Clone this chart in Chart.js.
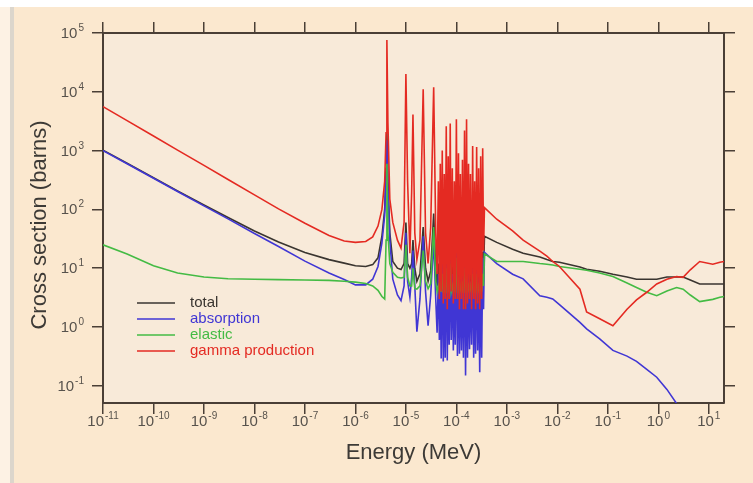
<!DOCTYPE html>
<html>
<head>
<meta charset="utf-8">
<script src="https://cdn.jsdelivr.net/npm/chart.js@4.4.0/dist/chart.umd.min.js"></script>
<style>
  html, body { margin: 0; padding: 0; }
  body { width: 753px; height: 483px; background: #fbe8cf; position: relative; overflow: hidden; }
  #topband { position: absolute; left: 0; top: 0; width: 753px; height: 7px; background: #ffffff; }
  #edge { position: absolute; left: 0; top: 7px; width: 10px; height: 476px; background: #fdf2e4; }
  #stripe { position: absolute; left: 10px; top: 7px; width: 4px; height: 476px; background: #dcd6cc; }
  #wrap { position: absolute; left: 0; top: 0; width: 753px; height: 483px; }
</style>
</head>
<body>
<div id="topband"></div>
<div id="edge"></div>
<div id="stripe"></div>
<div id="wrap"><canvas id="xsChart" width="753" height="483"></canvas></div>
<script>
// tick exponents (powers of ten)
const xTickExps = [-11, -10, -9, -8, -7, -6, -5, -4, -3, -2, -1, 0, 1];
const yTickExps = [-1, 0, 1, 2, 3, 4, 5];

// thermal / epithermal part (MeV, barns)
const lowE     = [1e-11, 3e-11, 1e-10, 3e-10, 1e-9, 3e-9, 1e-8, 3e-8, 1e-7, 3e-7, 6e-7, 1e-6, 1.6e-6, 2.2e-6, 2.8e-6, 3.35e-6, 3.8e-6, 4.05e-6];
const lowTotal = [1020, 610, 345, 206, 119, 73, 43, 28, 18.5, 14, 12.2, 11, 10.7, 11.5, 15, 35, 100, 500];
const lowAbs   = [1000, 597, 339, 202, 115, 69, 39, 23.4, 13.2, 8.3, 6.4, 5.2, 5.2, 6.5, 10.7, 27, 80, 400];
const lowEl    = [25, 17.5, 11, 8.3, 7.1, 6.6, 6.5, 6.4, 6.3, 6.2, 6.0, 5.8, 5.5, 5.0, 4.2, 3.3, 3.0, 30];
const lowGam   = [5600, 3230, 1770, 1020, 560, 323, 177, 102, 58, 36, 29, 27.5, 28.5, 34, 52, 100, 300, 2000];

// first resolved resonances
const resE = [4.2e-6, 4.4e-6, 4.8e-6, 5.5e-6, 6.8e-6, 8e-6, 9.2e-6, 1.0e-5, 1.08e-5, 1.2e-5,
              1.3e-5, 1.38e-5, 1.5e-5, 1.65e-5, 1.9e-5, 2.2e-5, 2.45e-5, 2.75e-5, 3.1e-5, 3.55e-5,
              3.9e-5, 4.15e-5];
const resTotal = [2000, 300, 40, 13, 10, 9.5, 12, 60, 12, 10,
                  12, 30, 10, 6, 8, 50, 10, 6, 9, 85,
                  9, 5];
const resAbs   = [1500, 250, 30, 6.5, 3.5, 2.8, 5, 40, 6, 3.2,
                  7, 20, 5, 0.83, 3, 35, 4, 1.05, 3.5, 30,
                  3, 0.8];
const resEl    = [600, 40, 12, 8.5, 7, 6.8, 7, 25, 7, 5,
                  5, 10, 4.5, 4.4, 5, 20, 6, 4.5, 5.5, 50,
                  6, 4];
const resGam   = [76000, 3000, 150, 60, 30, 22, 60, 20000, 300, 18,
                  200, 4100, 40, 14, 30, 11000, 40, 12, 50, 12000,
                  40, 8];

// dense resonance cluster
const denseE = [4.4e-5, 4.6e-5, 4.8e-5, 5.0e-5, 5.25e-5, 5.5e-5, 5.75e-5, 6.0e-5, 6.3e-5, 6.6e-5,
                6.9e-5, 7.2e-5, 7.55e-5, 7.9e-5, 8.3e-5, 8.7e-5, 9.1e-5, 9.5e-5, 1.0e-4, 1.05e-4,
                1.1e-4, 1.15e-4, 1.2e-4, 1.26e-4, 1.32e-4, 1.38e-4, 1.45e-4, 1.52e-4, 1.59e-4, 1.66e-4,
                1.74e-4, 1.82e-4, 1.9e-4, 2.0e-4, 2.1e-4, 2.2e-4, 2.3e-4, 2.4e-4, 2.52e-4, 2.64e-4,
                2.76e-4, 2.9e-4, 3.03e-4, 3.17e-4, 3.32e-4, 3.45e-4];
const denseTotal = [12, 4.5, 14, 4.3, 24, 4.2, 12, 4.3, 34, 4.3,
                    14, 4.5, 34, 4.6, 12, 4.4, 10, 4.5, 39, 4.3,
                    16, 4.4, 12, 4.4, 14, 4.3, 29, 4.1, 39, 4.3,
                    12, 4.4, 10, 4.5, 24, 4.3, 10, 4.3, 22, 4.4,
                    11, 4.1, 16, 4.3, 19, 8];
const denseAbs   = [8, 0.6, 10, 0.29, 20, 0.26, 8, 0.3, 30, 0.27,
                    10, 0.5, 30, 0.6, 8, 0.4, 6, 0.5, 35, 0.32,
                    12, 0.35, 8, 0.4, 10, 0.3, 25, 0.15, 35, 0.3,
                    8, 0.42, 6, 0.5, 20, 0.3, 6, 0.35, 18, 0.4,
                    7, 0.17, 12, 0.3, 15, 2];
const denseEl    = [5, 4, 6, 4, 8, 3.8, 5, 4, 10, 3.8,
                    6, 4, 12, 4, 5, 3.9, 5, 4, 15, 3.8,
                    7, 4, 5, 4, 6, 3.8, 10, 3.8, 15, 4,
                    5, 4, 5, 4, 8, 3.8, 5, 4, 8, 4,
                    5, 3.8, 6, 4, 8, 5];
const denseGam   = [300, 3, 600, 4, 1000, 2.5, 400, 3, 2600, 2,
                    800, 3, 2900, 4, 500, 2.5, 300, 3, 3400, 3,
                    900, 2, 400, 3, 700, 2, 2200, 2, 3400, 2.5,
                    600, 3, 400, 2, 1200, 3, 300, 2, 1150, 2.5,
                    500, 2, 800, 3, 1100, 20];

// unresolved / fast region
const highE     = [3.6e-4, 6.3e-4, 1.3e-3, 2.1e-3, 4.5e-3, 6.2e-3, 8.1e-3, 1.1e-2, 2.8e-2, 3.8e-2, 6.9e-2, 0.126, 0.24, 0.37, 0.59, 0.93, 1.48, 2.3, 3.1, 4.3, 6.6, 12, 16.6, 20];
const highTotal = [35, 27.5, 21, 18, 15.5, 14, 13, 12.6, 10.5, 9.6, 8.9, 7.9, 7.1, 6.5, 6.5, 6.5, 7.1, 7.1, 7.1, 6.3, 5.4, 5.4, 5.4, 5.4];
const highAbs   = [18.6, 12, 7.9, 6.6, 3.4, 3.2, 3.0, 2.4, 1.2, 0.93, 0.63, 0.4, 0.32, 0.26, 0.19, 0.14, 0.087, 0.05, 0.035, null, null, null, null, null];
const highEl    = [17.5, 13, 13, 13, 12, 11.7, 11.3, 10.7, 9.6, 9.2, 8.3, 7.2, 5.6, 4.7, 3.9, 3.4, 4.1, 4.7, 4.4, 3.5, 2.7, 2.95, 3.2, 3.3];
const highGam   = [107, 68, 43, 30, 19.5, 16, 13, 10.7, 4.4, 1.8, 1.38, 1.05, 2.0, 2.9, 3.9, 5.4, 6.5, 7.2, 7.0, 9.4, 13, 11.7, 12.6, 13];

const axisColor = '#4a3f36';
const tickColor = '#57524c';
const titleColor = '#3d3a36';
const fontFamily = '"Liberation Sans", Arial, sans-serif';

const energies = lowE.concat(resE, denseE, highE);
function toPoints(low, res, dense, high) {
    const vals = low.concat(res, dense, high);
    return energies.map((e, i) => ({ x: e, y: vals[i] }));
}

// "10" with a raised exponent
function drawPow(ctx, e, x, align, baseline) {
    ctx.font = '15px ' + fontFamily;
    const wb = ctx.measureText('10').width;
    ctx.font = '10px ' + fontFamily;
    const exp = String(e);
    const we = ctx.measureText(exp).width;
    const total = wb + 1 + we;
    const left = align === 'center' ? x - total / 2 : x - total;
    ctx.textAlign = 'left';
    ctx.textBaseline = 'alphabetic';
    ctx.font = '15px ' + fontFamily;
    ctx.fillText('10', left, baseline);
    ctx.font = '10px ' + fontFamily;
    ctx.fillText(exp, left + wb + 1, baseline - 7);
}

const axisText = {
    id: 'axisText',
    afterDraw(chart) {
        const { ctx } = chart;
        const xs = chart.scales.x, ys = chart.scales.y;
        ctx.save();
        ctx.fillStyle = tickColor;
        xTickExps.forEach(e => drawPow(ctx, e, xs.getPixelForValue(Math.pow(10, e)), 'center', xs.top + 23));
        yTickExps.forEach(e => drawPow(ctx, e, ys.right - 19, 'right', ys.getPixelForValue(Math.pow(10, e)) + 5));
        // y axis title, slightly below the axis middle as in the source
        ctx.translate(40, (ys.top + ys.bottom) / 2 + 7);
        ctx.rotate(-Math.PI / 2);
        ctx.fillStyle = titleColor;
        ctx.font = '22px ' + fontFamily;
        ctx.textAlign = 'center';
        ctx.textBaseline = 'middle';
        ctx.fillText('Cross section (barns)', 0, 0);
        ctx.restore();
    }
};

// plot area fill
const plotBg = {
    id: 'plotBg',
    beforeDraw(chart) {
        const { ctx, chartArea: a } = chart;
        ctx.save();
        ctx.fillStyle = '#f8ead9';
        ctx.fillRect(a.left, a.top, a.right - a.left, a.bottom - a.top);
        ctx.restore();
    }
};

// legend inside the plot, lower left
const innerLegend = {
    id: 'innerLegend',
    afterDatasetsDraw(chart) {
        const { ctx, chartArea: a } = chart;
        ctx.save();
        chart.data.datasets.forEach((ds, i) => {
            const y = a.top + 270 + i * 16;
            ctx.strokeStyle = ds.borderColor;
            ctx.lineWidth = 1.5;
            ctx.beginPath();
            ctx.moveTo(a.left + 34, y);
            ctx.lineTo(a.left + 72, y);
            ctx.stroke();
            ctx.fillStyle = ds.borderColor;
            ctx.font = '15px ' + fontFamily;
            ctx.textBaseline = 'middle';
            ctx.fillText(ds.label, a.left + 87, y);
        });
        ctx.restore();
    }
};

function logAxis(pos, ticks, min, max, size) {
    const horizontal = pos === 'top' || pos === 'bottom';
    return {
        type: 'logarithmic',
        position: pos,
        min: min,
        max: max,
        afterBuildTicks: s => { s.ticks = ticks.map(v => ({ value: v })); },
        afterFit: s => { if (horizontal) s.height = size; else s.width = size; },
        ticks: { display: false, autoSkip: false, maxRotation: 0 },
        grid: { drawOnChartArea: false, drawTicks: true, tickLength: 11, color: axisColor, lineWidth: 1.5 },
        border: { display: true, color: axisColor, width: 2 }
    };
}

const xTicks = xTickExps.map(e => Math.pow(10, e));
const yTicks = yTickExps.map(e => Math.pow(10, e));

const xAxis = logAxis('bottom', xTicks, 1e-11, 20, 80);
xAxis.title = { display: true, text: 'Energy (MeV)', color: titleColor, font: { family: fontFamily, size: 22 }, padding: { top: 0, bottom: 17 } };
const yAxis = logAxis('left', yTicks, 0.051, 1e5, 103);

const ctx = document.getElementById('xsChart').getContext('2d');
new Chart(ctx, {
    type: 'line',
    data: {
        datasets: [
            { label: 'total', data: toPoints(lowTotal, resTotal, denseTotal, highTotal), borderColor: '#3a3530', order: 3 },
            { label: 'absorption', data: toPoints(lowAbs, resAbs, denseAbs, highAbs), borderColor: '#4036d4', order: 2 },
            { label: 'elastic', data: toPoints(lowEl, resEl, denseEl, highEl), borderColor: '#44bb44', order: 1 },
            { label: 'gamma production', data: toPoints(lowGam, resGam, denseGam, highGam), borderColor: '#e42a22', order: 0 }
        ]
    },
    options: {
        responsive: false,
        animation: false,
        devicePixelRatio: 1,
        layout: { padding: 0 },
        elements: {
            point: { radius: 0 },
            line: { borderWidth: 1.6, tension: 0, fill: false }
        },
        plugins: {
            legend: { display: false },
            tooltip: { enabled: false }
        },
        scales: {
            x: xAxis,
            x2: logAxis('top', xTicks, 1e-11, 20, 33),
            y: yAxis,
            y2: logAxis('right', yTicks, 0.051, 1e5, 29)
        }
    },
    plugins: [plotBg, innerLegend, axisText]
});
</script>
</body>
</html>
